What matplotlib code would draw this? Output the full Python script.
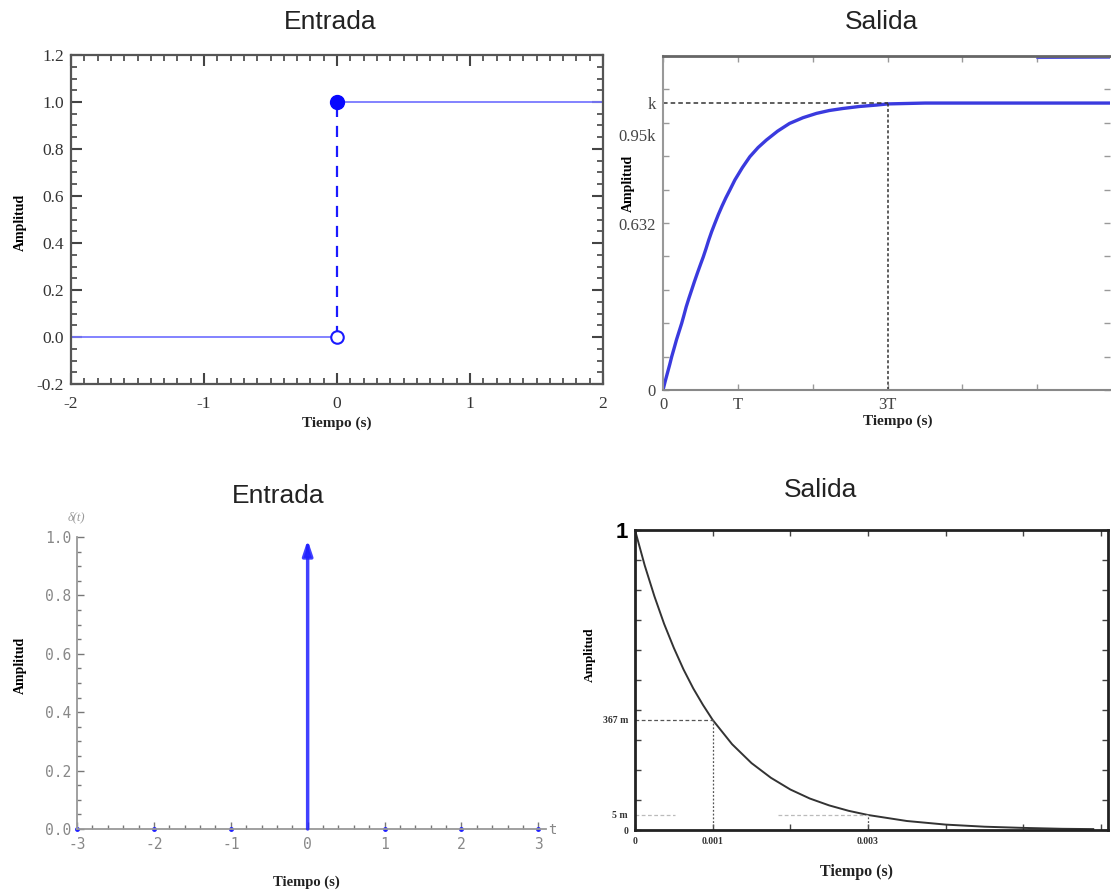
import numpy as np
import matplotlib.pyplot as plt
from matplotlib.ticker import MultipleLocator

# ---- values ----
# top-left: unit step input
step_t_low = [-2, 0]
step_low = [0, 0]
step_t_high = [0, 2]
step_high = [1, 1]

# top-right: first-order step response (in units of k, time in units of T)
resp_t = [0, 0.03, 0.06, 0.09, 0.116, 0.15, 0.18, 0.215, 0.249, 0.28, 0.31, 0.345, 0.382,
          0.42, 0.46, 0.50, 0.538, 0.575, 0.61, 0.65, 0.693, 0.74, 0.79, 0.84, 0.893,
          0.96, 1.06, 1.16, 1.27, 1.38, 1.53, 1.69, 1.87, 2.05, 2.22, 2.40, 2.62, 2.85, 3.0,
          3.5, 4.0, 5.0, 5.97]
resp_y = [0, 0.031, 0.06, 0.089, 0.116, 0.147, 0.175, 0.204, 0.232, 0.261, 0.29, 0.319, 0.348,
          0.378, 0.408, 0.437, 0.464, 0.493, 0.522, 0.552, 0.581, 0.612, 0.642, 0.670, 0.697,
          0.732, 0.775, 0.813, 0.845, 0.871, 0.902, 0.929, 0.949, 0.964, 0.974, 0.981, 0.988,
          0.993, 0.997, 1.0, 1.0, 1.0, 1.0]
stray_t = [5.0, 5.97]
stray_y = [1.157, 1.158]
resp_labels = ['0', '0.632', '0.95k', 'k']
resp_label_pos = [0, 0.578, 0.889, 1.0]

# bottom-left: impulse input
imp_t = [0]
imp_amp = [1.0]
train_t = [-3, -2, -1, 1, 2, 3]

# bottom-right: impulse response (decay, 1 ms)
dec_t = [0, 0.000125, 0.00025, 0.000375, 0.0005, 0.000625, 0.00075, 0.000875, 0.001,
         0.00125, 0.0015, 0.00175, 0.002, 0.00225, 0.0025, 0.00275, 0.003, 0.0035,
         0.004, 0.0045, 0.005, 0.0055, 0.0059]
dec_y = [1.0, 0.882, 0.779, 0.687, 0.607, 0.535, 0.472, 0.417, 0.367,
         0.286, 0.223, 0.174, 0.135, 0.105, 0.082, 0.064, 0.05, 0.03,
         0.018, 0.011, 0.007, 0.004, 0.003]

W, H = 1111, 892


def rect(l, t, r, b):
    return [l / W, 1 - b / H, (r - l) / W, (b - t) / H]


def ftext(x, y, s, **kw):
    fig.text(x / W, 1 - y / H, s, ha='center', va='center', **kw)


serif = ['Liberation Serif', 'DejaVu Serif']
sans = ['Liberation Sans', 'DejaVu Sans']

fig = plt.figure(figsize=(W / 100, H / 100), dpi=100)

# ---------------- top-left: Entrada (escalon) ----------------
ax1 = fig.add_axes(rect(71, 55, 603, 384))
ax1.plot(step_t_low, step_low, color='#7878ff', lw=1.3)
ax1.plot(step_t_high, step_high, color='#7878ff', lw=1.3)
ax1.plot([0, 0], [step_low[-1], step_high[0]], color='#1a1aff', lw=1.6, ls=(0, (5, 4)))
ax1.plot(0, 1, 'o', color='#0808ff', ms=10)
ax1.plot(0, 0, 'o', mfc='white', mec='#1a1aff', mew=1.5, ms=9, zorder=5)
ax1.set_xlim(-2, 2)
ax1.set_ylim(-0.2, 1.2)
ax1.xaxis.set_major_locator(MultipleLocator(1))
ax1.xaxis.set_minor_locator(MultipleLocator(0.1))
ax1.yaxis.set_major_locator(MultipleLocator(0.2))
ax1.yaxis.set_minor_locator(MultipleLocator(0.05))
ax1.set_xticklabels([f'{v:g}' for v in ax1.get_xticks()])
ax1.set_yticklabels([f'{v:.1f}' for v in ax1.get_yticks()])
ax1.tick_params(which='both', direction='in', top=True, right=True, color='#444',
                labelsize=12.5, labelcolor='#333', pad=5)
ax1.tick_params(axis='x', pad=9)
ax1.tick_params(which='major', length=8, width=1.5)
ax1.tick_params(which='minor', length=4, width=1.2)
for lab in ax1.get_xticklabels() + ax1.get_yticklabels():
    lab.set_fontfamily(serif)
for s in ax1.spines.values():
    s.set_color('#555')
    s.set_linewidth(1.6)

ftext(330, 22, 'Entrada', fontsize=19, family=sans, color='#222')
ftext(20, 222, 'Amplitud', fontsize=10, family=serif, weight='bold', rotation=90)
ftext(337, 423, 'Tiempo (s)', fontsize=11, family=serif, weight='bold', color='#222')

# ---------------- top-right: Salida (respuesta al escalon) ----------------
ax2 = fig.add_axes(rect(663, 56, 1110, 390))
ax2.plot(resp_t, resp_y, color='#3a3ade', lw=2.4, solid_capstyle='round')
ax2.plot(stray_t, stray_y, color='#5555e0', lw=1.5)
ax2.plot([0, 3], [1, 1], color='#333', lw=1.1, ls=(0, (3, 2)))
ax2.plot([3, 3], [0, 1], color='#333', lw=1.1, ls=(0, (2, 1.5)))
ax2.set_xlim(0, 5.97)
ax2.set_ylim(0, 1.164)
ax2.set_xticks([0, 1, 3])
ax2.set_xticklabels(['0', 'T', '3T'])
ax2.set_yticks(resp_label_pos)
ax2.set_yticklabels(resp_labels)
ax2.set_xticks(range(0, 6), minor=True)
ax2.set_yticks(np.linspace(0, 1.164, 11), minor=True)
ax2.xaxis.remove_overlapping_locs = False
ax2.yaxis.remove_overlapping_locs = False
ax2.tick_params(which='major', length=0, labelsize=12, labelcolor='#444', pad=5)
ax2.tick_params(which='minor', direction='in', length=4, width=1, color='#999',
                top=True, right=True)
for lab in ax2.get_xticklabels() + ax2.get_yticklabels():
    lab.set_fontfamily(serif)
ax2.spines['right'].set_visible(False)
ax2.spines['top'].set_color('#666')
ax2.spines['top'].set_linewidth(2)
ax2.spines['left'].set_color('#999')
ax2.spines['left'].set_linewidth(1.5)
ax2.spines['bottom'].set_color('#888')
ax2.spines['bottom'].set_linewidth(1.5)

ftext(882, 22, 'Salida', fontsize=19, family=sans, color='#222')
ftext(628, 183, 'Amplitud', fontsize=10, family=serif, weight='bold', rotation=90)
ftext(898, 421, 'Tiempo (s)', fontsize=11, family=serif, weight='bold', color='#222')

# ---------------- bottom-left: Entrada (impulso) ----------------
ax3 = fig.add_axes(rect(77, 537, 546, 829))
for t, a in zip(imp_t, imp_amp):
    ax3.annotate('', xy=(t, a - 0.01), xytext=(t, 0),
                 arrowprops=dict(arrowstyle='-|>,head_length=0.9,head_width=0.3',
                                 color='#2020ff', lw=2.5, alpha=0.85, shrinkA=0, shrinkB=0))
ax3.plot(train_t, np.zeros(len(train_t)), 'o', color='#2020ff', ms=2.5, clip_on=False)
ax3.set_xlim(-3, 3.1)
ax3.set_ylim(0, 1.0)
ax3.spines['top'].set_visible(False)
ax3.spines['right'].set_visible(False)
for s in ('left', 'bottom'):
    ax3.spines[s].set_color('#999')
    ax3.spines[s].set_linewidth(1.3)
ax3.xaxis.set_minor_locator(MultipleLocator(0.2))
ax3.yaxis.set_minor_locator(MultipleLocator(0.05))
ax3.set_xticks(range(-3, 4))
ax3.set_xticklabels([str(v) for v in range(-3, 4)])
ax3.set_yticks(np.arange(0, 1.01, 0.2))
ax3.set_yticklabels([f'{v:.1f}' for v in np.arange(0, 1.01, 0.2)])
ax3.tick_params(which='both', direction='in', color='#777', labelcolor='#888',
                labelsize=10.5, pad=4)
ax3.tick_params(axis='x', pad=6)
ax3.tick_params(which='major', length=5, width=1)
ax3.tick_params(which='minor', length=3, width=1)
for lab in ax3.get_xticklabels() + ax3.get_yticklabels():
    lab.set_fontfamily(['DejaVu Sans Mono'])

ftext(278, 496, 'Entrada', fontsize=19, family=sans, color='#222')
ftext(76, 517, 'δ(t)', fontsize=9, family=serif, style='italic', color='#999')
ftext(552, 830, 't', fontsize=10, family=['DejaVu Sans Mono'], color='#888')
ftext(20, 665, 'Amplitud', fontsize=10, family=serif, weight='bold', rotation=90)
ftext(306, 882, 'Tiempo (s)', fontsize=10.5, family=serif, weight='bold', color='#222')

# ---------------- bottom-right: Salida (respuesta al impulso) ----------------
ax4 = fig.add_axes(rect(635, 530, 1108, 830))
ax4.plot(dec_t, dec_y, color='#333', lw=1.4)
ax4.plot([0, 0.001], [0.367, 0.367], color='#555', lw=0.9, ls=(0, (3, 2)))
ax4.plot([0.001, 0.001], [0, 0.367], color='#555', lw=0.9, ls=(0, (1.5, 1.5)))
ax4.plot([0, 0.00052], [0.05, 0.05], color='#bbb', lw=0.9, ls=(0, (3, 2)))
ax4.plot([0.00184, 0.003], [0.05, 0.05], color='#bbb', lw=0.9, ls=(0, (3, 2)))
ax4.plot([0.003, 0.003], [0, 0.05], color='#555', lw=0.9, ls=(0, (1.5, 1.5)))
ax4.set_xlim(0, 0.00609)
ax4.set_ylim(0, 1)
ax4.set_xticks([0, 0.001, 0.003])
ax4.set_xticklabels(['0', '0.001', '0.003'])
ax4.set_yticks([0, 0.05, 0.367, 1])
ax4.set_yticklabels(['0', '5 m', '367 m', '1'])
ax4.set_xticks(np.arange(0, 0.0061, 0.001), minor=True)
ax4.set_yticks(np.arange(0, 1.01, 0.1), minor=True)
ax4.xaxis.remove_overlapping_locs = False
ax4.yaxis.remove_overlapping_locs = False
ax4.tick_params(which='major', length=0, labelsize=7, labelcolor='#333', pad=5)
ax4.tick_params(which='minor', direction='in', length=4, width=1, color='#444',
                top=True, right=True)
for lab in ax4.get_xticklabels() + ax4.get_yticklabels():
    lab.set_fontfamily(serif)
    lab.set_fontweight('bold')
one = ax4.get_yticklabels()[-1]
one.set_fontfamily(sans)
one.set_fontsize(16)
one.set_color('black')
for s in ax4.spines.values():
    s.set_color('#222')
    s.set_linewidth(2)

ftext(821, 490, 'Salida', fontsize=19, family=sans, color='#222')
ftext(590, 655, 'Amplitud', fontsize=9.5, family=serif, weight='bold', rotation=90)
ftext(857, 872, 'Tiempo (s)', fontsize=11.5, family=serif, weight='bold', color='#222')

fig.savefig('out.png', dpi=100)
